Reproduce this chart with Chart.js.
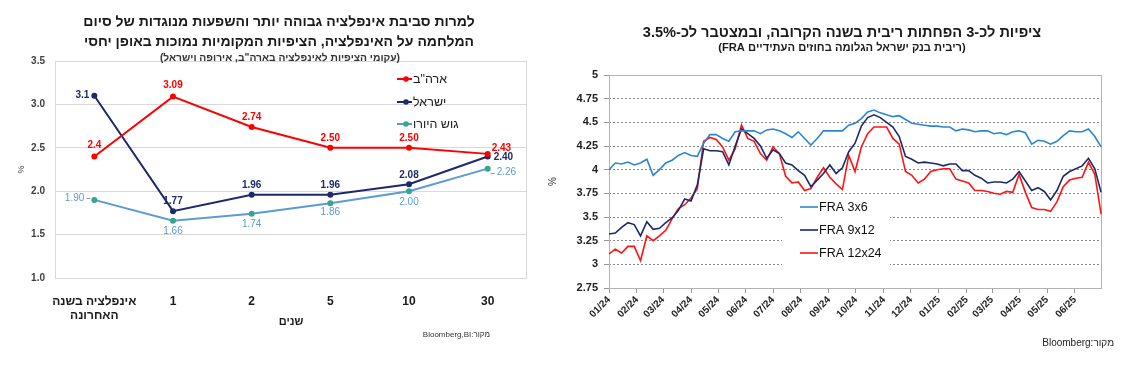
<!DOCTYPE html>
<html lang="he">
<head>
<meta charset="utf-8">
<script src="https://cdn.jsdelivr.net/npm/chart.js@4.4.1/dist/chart.umd.min.js"></script>
<style>
html,body{margin:0;padding:0;background:#fff;}
#wrap{position:relative;width:1122px;height:376px;overflow:hidden;font-family:"Liberation Sans",Arial,sans-serif;}
canvas{position:absolute;top:0;}
#c1{left:0;} #c2{left:545px;}
.txt{position:absolute;direction:rtl;white-space:nowrap;color:#1a1a1a;font-family:"Liberation Sans",Arial,sans-serif;}
</style>
</head>
<body>
<div id="wrap">
<canvas id="c1" width="545" height="376"></canvas>
<canvas id="c2" width="577" height="376"></canvas>
<div class="txt" style="left:-21px;width:600px;top:11px;text-align:center;font-weight:bold;font-size:14px;line-height:20px;">למרות סביבת אינפלציה גבוהה יותר והשפעות מנוגדות של סיום<br>המלחמה על האינפלציה, הציפיות המקומיות נמוכות באופן יחסי</div>
<div class="txt" style="left:-20px;width:600px;top:51px;text-align:center;font-weight:bold;font-size:10.3px;line-height:13px;color:#333;">(עקומי הציפיות לאינפלציה בארה"ב, אירופה וישראל)</div>
<div class="txt" style="right:632px;top:329px;text-align:right;font-size:8px;line-height:11px;color:#333;">מקור:Bloomberg,BI</div>
<div class="txt" style="left:542px;width:600px;top:23px;text-align:center;font-weight:bold;font-size:14.6px;line-height:18px;">ציפיות לכ-3 הפחתות ריבית בשנה הקרובה, ובמצטבר לכ-3.5%</div>
<div class="txt" style="left:542px;width:600px;top:40px;text-align:center;font-weight:bold;font-size:11.2px;line-height:14px;">(ריבית בנק ישראל הגלומה בחוזים העתידיים FRA)</div>
<div class="txt" style="right:8px;top:336px;text-align:right;font-size:10px;line-height:13px;color:#222;">מקור:Bloomberg</div>
</div>
<script>
// ---------- Left chart data: inflation expectations ----------
const inflCategories = [['אינפלציה בשנה', 'האחרונה'], '1', '2', '5', '10', '30'];
const inflAxisTitle = 'שנים';
const usaValues = [2.4, 3.09, 2.74, 2.50, 2.50, 2.43];
const israelValues = [3.1, 1.77, 1.96, 1.96, 2.08, 2.40];
const euroValues = [1.90, 1.66, 1.74, 1.86, 2.00, 2.26];
const usaDecimals = [1, 2, 2, 2, 2, 2];
const israelDecimals = [1, 2, 2, 2, 2, 2];
const euroDecimals = [2, 2, 2, 2, 2, 2];
const inflSeriesNames = ['ארה"ב', 'ישראל', 'גוש היורו'];
const inflYTicks = [1.0, 1.5, 2.0, 2.5, 3.0, 3.5];

// ---------- Right chart data: BOI rate implied by FRA ----------
// x = days since 2024-01-01
const fraDays = [0,7,14,21,28,35,42,49,56,63,70,77,84,91,98,105,112,119,126,133,140,147,154,161,168,175,182,189,196,203,210,217,224,231,238,245,252,259,266,273,280,287,294,301,308,315,322,329,336,343,350,357,364,371,378,385,392,399,406,413,420,427,434,441,448,455,462,469,476,483,490,497,504,511,518,525,532,539,546];
const fra3x6 = [4.00,4.07,4.06,4.08,4.05,4.07,4.11,3.94,4.00,4.07,
4.10,4.15,4.18,4.15,4.14,4.28,4.37,4.37,4.33,4.30,
4.40,4.41,4.41,4.41,4.38,4.42,4.43,4.41,4.38,4.34,
4.40,4.33,4.26,4.33,4.41,4.41,4.41,4.41,4.47,4.49,
4.54,4.61,4.63,4.60,4.58,4.56,4.57,4.53,4.49,4.48,
4.47,4.46,4.46,4.45,4.45,4.41,4.43,4.42,4.40,4.41,
4.41,4.38,4.39,4.37,4.40,4.41,4.39,4.27,4.31,4.30,
4.27,4.30,4.36,4.41,4.40,4.40,4.43,4.35,4.24];
const fra9x12 = [3.32,3.33,3.39,3.44,3.42,3.30,3.45,3.37,3.38,3.44,
3.49,3.57,3.69,3.67,3.84,4.22,4.20,4.20,4.19,4.05,
4.25,4.43,4.38,4.33,4.25,4.12,4.21,4.17,4.07,4.05,
3.99,3.94,3.82,3.89,3.96,4.05,3.96,4.02,4.19,4.28,
4.46,4.55,4.58,4.55,4.50,4.45,4.35,4.14,4.11,4.07,
4.08,4.07,4.06,4.04,4.06,4.06,3.99,3.99,3.94,3.91,
3.86,3.87,3.87,3.86,3.90,3.98,3.88,3.78,3.81,3.77,
3.68,3.78,3.93,3.98,4.01,4.04,4.12,4.01,3.76];
const fra12x24 = [3.11,3.16,3.12,3.19,3.19,3.04,3.30,3.25,3.30,3.36,
3.48,3.59,3.63,3.70,3.80,4.30,4.34,4.32,4.24,4.10,
4.22,4.47,4.33,4.30,4.17,4.10,4.24,4.17,3.93,3.86,
3.87,3.78,3.80,3.92,4.02,3.92,3.85,3.79,4.15,3.98,
4.24,4.38,4.45,4.45,4.45,4.33,4.27,3.98,3.94,3.86,
3.90,3.98,4.00,4.01,4.01,3.90,3.88,3.86,3.78,3.78,
3.77,3.75,3.74,3.77,3.76,3.95,3.76,3.60,3.58,3.58,
3.56,3.66,3.82,3.89,3.91,3.92,4.08,3.95,3.53];
const fraSeriesNames = ['FRA 3x6', 'FRA 9x12', 'FRA 12x24'];
const fraMonthTicks = [0,31,60,91,121,152,182,213,244,274,305,335,366,397,425,456,486,517];
const fraMonthLabels = ['01/24','02/24','03/24','04/24','05/24','06/24','07/24','08/24','09/24','10/24','11/24','12/24','01/25','02/25','03/25','04/25','05/25','06/25'];
const fraYMin = 2.75, fraYMax = 5, fraYStep = 0.25;

// ---------- styles ----------
const FONT = "'Liberation Sans', Arial, sans-serif";
Chart.defaults.font.family = FONT;
const RED = '#ff0000', NAVY = '#1c2a6b', LBLUE = '#5b9bd5', TEAL = '#35a58b';
const FRA_COLORS = ['#2a86d4', '#1a2a6c', '#ff1414'];

// plot box around chart area
const plotBox = {
  id: 'plotBox',
  beforeDatasetsDraw(chart, args, opts) {
    const {ctx, chartArea: a} = chart;
    ctx.save();
    ctx.strokeStyle = opts.color; ctx.lineWidth = 1;
    ctx.strokeRect(Math.round(a.left) + 0.5, Math.round(a.top) + 0.5, Math.round(a.right - a.left) - 1, Math.round(a.bottom - a.top));
    ctx.restore();
  }
};

// value labels for left chart
const pointLabels = {
  id: 'pointLabels',
  afterDatasetsDraw(chart) {
    const ctx = chart.ctx;
    chart.data.datasets.forEach((ds, di) => {
      const meta = chart.getDatasetMeta(di);
      meta.data.forEach((pt, i) => {
        const [dx, dy, al] = ds.labelPos[i];
        ctx.save();
        ctx.font = ds.labelFont; ctx.fillStyle = ds.labelColor;
        ctx.textAlign = al; ctx.textBaseline = 'middle';
        ctx.fillText(ds.data[i].toFixed(ds.labelDecimals[i]), pt.x + dx, pt.y + dy);
        if (ds.leaders && ds.leaders[i]) {
          const [x1, x2] = ds.leaders[i];
          ctx.strokeStyle = '#9a9a9a'; ctx.lineWidth = 1;
          ctx.beginPath(); ctx.moveTo(pt.x + x1, Math.round(pt.y + dy) + 0.5); ctx.lineTo(pt.x + x2, Math.round(pt.y + dy) + 0.5); ctx.stroke();
        }
        ctx.restore();
      });
    });
  }
};

// legend for left chart, inside the plot
const inflLegend = {
  id: 'inflLegend',
  afterDatasetsDraw(chart) {
    const ctx = chart.ctx;
    const ys = [79, 102, 124];
    chart.data.datasets.forEach((ds, i) => {
      const y = ys[i];
      ctx.save();
      ctx.strokeStyle = ds.borderColor; ctx.lineWidth = 2;
      ctx.beginPath(); ctx.moveTo(397, y); ctx.lineTo(412, y); ctx.stroke();
      ctx.fillStyle = ds.pointBackgroundColor;
      ctx.beginPath(); ctx.arc(406, y, 2.8, 0, Math.PI * 2); ctx.fill();
      ctx.fillStyle = '#1a1a1a'; ctx.font = '12.5px ' + FONT;
      ctx.direction = 'rtl'; ctx.textAlign = 'left'; ctx.textBaseline = 'middle';
      ctx.fillText(ds.label, 413, y + 1);
      ctx.restore();
    });
  }
};

// legend for right chart
const fraLegend = {
  id: 'fraLegend',
  afterDatasetsDraw(chart) {
    const ctx = chart.ctx;
    const ys = [207, 230, 253];
    ctx.save();
    ctx.fillStyle = '#ffffff';
    ctx.fillRect(237, 195, 108, 72);
    chart.data.datasets.forEach((ds, i) => {
      const y = ys[i];
      ctx.strokeStyle = ds.borderColor; ctx.lineWidth = 1.6;
      ctx.beginPath(); ctx.moveTo(255, y); ctx.lineTo(273, y); ctx.stroke();
      ctx.fillStyle = '#111'; ctx.font = '12.5px ' + FONT;
      ctx.textAlign = 'left'; ctx.textBaseline = 'middle';
      ctx.fillText(ds.label, 274, y + 1);
    });
    ctx.restore();
  }
};

// ---------- Left chart ----------
const labelBold = 'bold 10px ' + FONT;
new Chart(document.getElementById('c1'), {
  type: 'line',
  data: {
    labels: inflCategories,
    datasets: [
      { label: inflSeriesNames[0], data: usaValues, borderColor: RED, borderWidth: 2, pointRadius: 3, pointBackgroundColor: RED, pointBorderWidth: 0,
        labelColor: RED, labelFont: labelBold, labelDecimals: usaDecimals,
        labelPos: [[0,-11,'center'],[0,-11,'center'],[0,-10,'center'],[0,-10,'center'],[0,-10,'center'],[4,-6,'left']] },
      { label: inflSeriesNames[1], data: israelValues, borderColor: NAVY, borderWidth: 2, pointRadius: 3, pointBackgroundColor: NAVY, pointBorderWidth: 0,
        labelColor: NAVY, labelFont: labelBold, labelDecimals: israelDecimals,
        labelPos: [[-5,0,'right'],[0,-10,'center'],[0,-9,'center'],[0,-9,'center'],[0,-9,'center'],[6,1,'left']] },
      { label: inflSeriesNames[2], data: euroValues, borderColor: LBLUE, borderWidth: 2, pointRadius: 3, pointBackgroundColor: TEAL, pointBorderWidth: 0,
        labelColor: LBLUE, labelFont: '10px ' + FONT, labelDecimals: euroDecimals,
        labelPos: [[-10,-2,'right'],[0,11,'center'],[0,10,'center'],[0,9,'center'],[0,11,'center'],[9,4,'left']],
        leaders: [[-8,-4], null, null, null, null, [3,7]] }
    ]
  },
  options: {
    responsive: false, animation: false, devicePixelRatio: 1,
    layout: { padding: { top: 61, right: 18, bottom: 0, left: 0 } },
    plugins: { legend: { display: false }, tooltip: { enabled: false }, plotBox: { color: '#d9d9d9' } },
    scales: {
      x: {
        type: 'category', offset: true,
        grid: { display: false }, border: { display: false },
        ticks: { color: '#1a1a1a', font: { size: 12, weight: 'bold' }, padding: 8, maxRotation: 0, autoSkip: false },
        title: { display: true, text: inflAxisTitle, color: '#1a1a1a', font: { size: 11, weight: 'bold' }, padding: { top: 0, bottom: 47 } },
        afterFit: s => { s.height = 98; }
      },
      y: {
        min: 1, max: 3.5,
        afterBuildTicks: s => { s.ticks = inflYTicks.map(v => ({ value: v })); },
        grid: { color: '#d9d9d9', drawTicks: false }, border: { display: false },
        ticks: { color: '#404040', font: { size: 10, weight: 'bold' }, padding: 10, callback: v => Number(v).toFixed(1) },
        title: { display: true, text: '%', color: '#404040', font: { size: 9 }, padding: { top: 16, bottom: 0 } },
        afterFit: s => { s.width = 55; }
      }
    }
  },
  plugins: [plotBox, pointLabels, inflLegend]
});

// ---------- Right chart ----------
const toPts = arr => fraDays.map((d, i) => ({ x: d, y: arr[i] }));
new Chart(document.getElementById('c2'), {
  type: 'line',
  data: {
    datasets: [
      { label: fraSeriesNames[0], data: toPts(fra3x6), borderColor: FRA_COLORS[0], borderWidth: 1.6, pointRadius: 0 },
      { label: fraSeriesNames[1], data: toPts(fra9x12), borderColor: FRA_COLORS[1], borderWidth: 1.6, pointRadius: 0 },
      { label: fraSeriesNames[2], data: toPts(fra12x24), borderColor: FRA_COLORS[2], borderWidth: 1.6, pointRadius: 0 }
    ]
  },
  options: {
    responsive: false, animation: false, devicePixelRatio: 1,
    layout: { padding: { top: 75, right: 20, bottom: 0, left: 0 } },
    plugins: { legend: { display: false }, tooltip: { enabled: false }, plotBox: { color: '#b3b3b3' } },
    scales: {
      x: {
        type: 'linear', min: 0, max: 547,
        afterBuildTicks: s => { s.ticks = fraMonthTicks.map(v => ({ value: v })); },
        grid: { drawOnChartArea: false, drawTicks: true, tickLength: 5, color: '#999', tickColor: '#999' },
        border: { display: false },
        ticks: { color: '#222', font: { size: 10, weight: 'bold' }, padding: 1, maxRotation: 45, minRotation: 45, autoSkip: false,
                 callback: (v, i) => fraMonthLabels[i] },
        afterFit: s => { s.height = 88; }
      },
      y: {
        min: fraYMin, max: fraYMax,
        ticks: { stepSize: fraYStep, color: '#222', font: { size: 11, weight: 'bold' }, padding: 6,
                 callback: v => String(Math.round(v * 100) / 100) },
        grid: { drawTicks: true, tickLength: 5, tickColor: '#999',
                color: c => (c.tick && (Math.abs(c.tick.value - fraYMax) < 1e-6 || Math.abs(c.tick.value - fraYMin) < 1e-6)) ? 'rgba(0,0,0,0)' : '#8a8a8a' },
        border: { display: false, dash: [2, 2] },
        title: { display: true, text: '%', color: '#333', font: { size: 10 }, padding: { top: 2, bottom: 0 } },
        afterFit: s => { s.width = 64; }
      }
    }
  },
  plugins: [plotBox, fraLegend]
});
</script>
</body>
</html>
